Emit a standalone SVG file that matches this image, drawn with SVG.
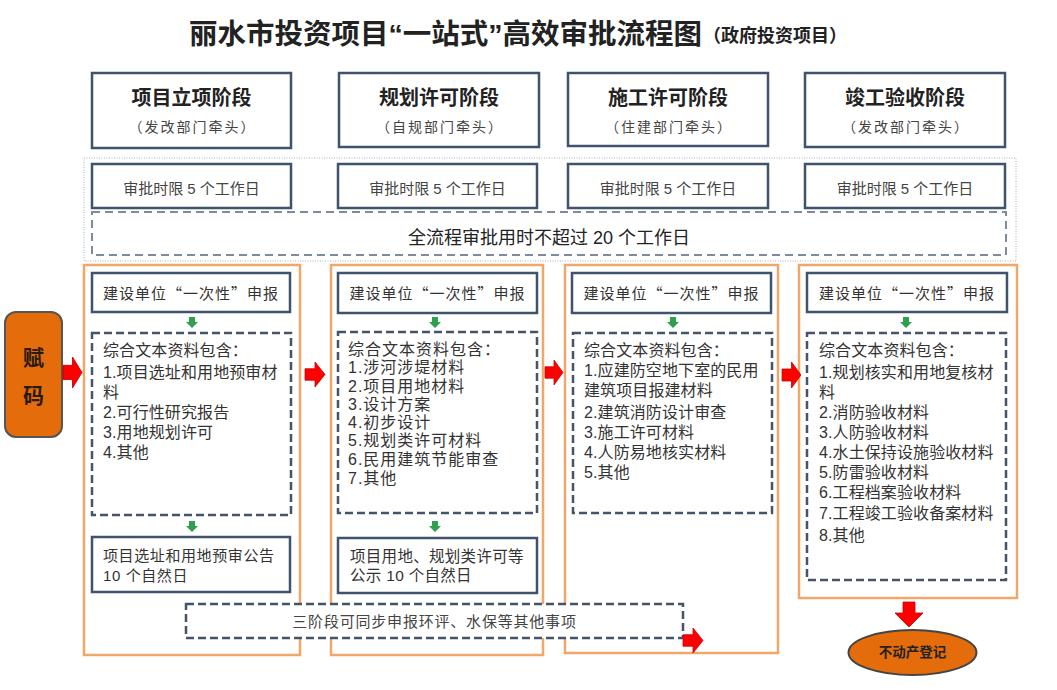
<svg xmlns="http://www.w3.org/2000/svg" width="1057" height="690" viewBox="0 0 1057 690">
<style>
text{font-family:'Liberation Sans','Noto Sans CJK SC',sans-serif;fill:#333}
.cjk{font-family:'Noto Sans CJK SC','Noto Sans CJK JP',sans-serif}
.box{fill:#fff;stroke:#3f536e;stroke-width:2.5}
.dash{fill:#fff;stroke:#44546a;stroke-width:2.5;stroke-dasharray:8 4}
.col{fill:none;stroke:#f0a86a;stroke-width:2.5}
.h1{font-size:20px;font-weight:bold;fill:#222;text-anchor:middle}
.h2{font-size:14px;fill:#444;text-anchor:middle;letter-spacing:2px}
.lim{font-size:15px;fill:#444;text-anchor:middle}
.sub{font-size:15px;fill:#333;text-anchor:middle;letter-spacing:1px}
.c{font-size:16px;fill:#333;letter-spacing:0.1px}
.c2{font-size:16px;fill:#333;letter-spacing:1px}
.red{fill:#ff0000;stroke:#c80000;stroke-width:0.8}
.grn{fill:#2fa04f}
</style>
<defs>
<path id="ra" d="M0,7 H10 V0 L20,13 L10,26 V19 H0 Z"/>
<path id="ga" d="M-3,0 H3 V5 H6 L0,11 L-6,5 H-3 Z"/>
</defs>
<rect width="1057" height="690" fill="#fff"/>
<g id="title">
<text x="189" y="44" style="font-size:28.5px;font-weight:bold;fill:#222">丽水市投资项目“一站式”高效审批流程图</text>
<text x="703" y="42" class="cjk" style="font-size:18px;font-weight:bold;fill:#222">（政府投资项目）</text>
</g>
<g id="stage1"><rect class="box" x="92" y="73" width="199" height="75"/><text class="h1" x="191.5" y="105">项目立项阶段</text><text class="h2 cjk" x="192.5" y="132">（发改部门牵头）</text></g>
<g id="stage2"><rect class="box" x="339" y="73" width="200" height="74"/><text class="h1" x="439" y="105">规划许可阶段</text><text class="h2 cjk" x="440" y="132">（自规部门牵头）</text></g>
<g id="stage3"><rect class="box" x="568" y="73" width="200" height="73"/><text class="h1" x="668" y="105">施工许可阶段</text><text class="h2 cjk" x="669" y="132">（住建部门牵头）</text></g>
<g id="stage4"><rect class="box" x="805" y="73" width="200" height="74"/><text class="h1" x="905" y="105">竣工验收阶段</text><text class="h2 cjk" x="906" y="132">（发改部门牵头）</text></g>
<g id="limits">
<rect x="84" y="158" width="932" height="103" fill="none" stroke="#a8b0bc" stroke-width="1" stroke-dasharray="1 1.5"/>
<g id="lim1"><rect class="box" x="92" y="164" width="199" height="44"/><text class="lim" x="191.5" y="193.5">审批时限 5 个工作日</text></g>
<g id="lim2"><rect class="box" x="338" y="164" width="199" height="44"/><text class="lim" x="437.5" y="193.5">审批时限 5 个工作日</text></g>
<g id="lim3"><rect class="box" x="568" y="164" width="200" height="44"/><text class="lim" x="668" y="193.5">审批时限 5 个工作日</text></g>
<g id="lim4"><rect class="box" x="805" y="164" width="200" height="44"/><text class="lim" x="905" y="193.5">审批时限 5 个工作日</text></g>
<g id="total"><rect x="92" y="212" width="914" height="43" fill="#fff" stroke="#7f8b9c" stroke-width="2" stroke-dasharray="8 5"/><text x="549" y="244" style="font-size:18px;fill:#222;text-anchor:middle">全流程审批用时不超过 20 个工作日</text></g>
</g>
<g id="fuma"><rect x="5" y="312" width="57" height="125" rx="11" fill="#e46c0a" stroke="#555" stroke-width="2"/><text x="33.5" y="365" style="font-size:21px;font-weight:bold;fill:#2a1a0a;text-anchor:middle">赋</text><text x="33.5" y="403" style="font-size:21px;font-weight:bold;fill:#2a1a0a;text-anchor:middle">码</text></g>
<g id="col1">
<rect class="col" x="84" y="265" width="216" height="390"/>
<rect class="box" x="92" y="273" width="198" height="39"/><text class="sub cjk" x="191" y="299">建设单位“一次性”申报</text>
<rect class="dash" x="92" y="333" width="199" height="182"/>
<text class="c" x="103" y="356">综合文本资料包含：</text>
<text class="c" x="103" y="378">1.项目选址和用地预审材</text>
<text class="c" x="103" y="398">料</text>
<text class="c" x="103" y="418">2.可行性研究报告</text>
<text class="c" x="103" y="438">3.用地规划许可</text>
<text class="c" x="103" y="458">4.其他</text>
<rect class="box" x="92" y="537" width="198" height="55"/>
<text x="103" y="561" style="font-size:15px;letter-spacing:0.6px">项目选址和用地预审公告</text>
<text x="103" y="581" style="font-size:15px;letter-spacing:0.6px">10 个自然日</text>
</g>
<g id="col2">
<rect class="col" x="331" y="265" width="212" height="390"/>
<rect class="box" x="338" y="273" width="199" height="40"/><text class="sub cjk" x="437.5" y="299">建设单位“一次性”申报</text>
<rect class="dash" x="338" y="332" width="199" height="181"/>
<text class="c2" x="348" y="355">综合文本资料包含：</text>
<text class="c2" x="348" y="373">1.涉河涉堤材料</text>
<text class="c2" x="348" y="392">2.项目用地材料</text>
<text class="c2" x="348" y="410">3.设计方案</text>
<text class="c2" x="348" y="428">4.初步设计</text>
<text class="c2" x="348" y="446">5.规划类许可材料</text>
<text class="c2" x="348" y="465">6.民用建筑节能审查</text>
<text class="c2" x="348" y="484">7.其他</text>
<rect class="box" x="338" y="538" width="199" height="55"/>
<text x="350" y="562" style="font-size:15.5px;letter-spacing:0.3px">项目用地、规划类许可等</text>
<text x="350" y="581" style="font-size:15.5px;letter-spacing:0.3px">公示 10 个自然日</text>
</g>
<g id="col3">
<rect class="col" x="565" y="265" width="213" height="388"/>
<rect class="box" x="572" y="273" width="199" height="40"/><text class="sub cjk" x="671.5" y="299">建设单位“一次性”申报</text>
<rect class="dash" x="573" y="333" width="199" height="180"/>
<text class="c" x="584" y="356">综合文本资料包含：</text>
<text class="c" x="584" y="376">1.应建防空地下室的民用</text>
<text class="c" x="584" y="396">建筑项目报建材料</text>
<text class="c" x="584" y="417.5">2.建筑消防设计审查</text>
<text class="c" x="584" y="437.5">3.施工许可材料</text>
<text class="c" x="584" y="457.5">4.人防易地核实材料</text>
<text class="c" x="584" y="478">5.其他</text>
</g>
<g id="col4">
<rect class="col" x="799" y="265" width="218" height="333"/>
<rect class="box" x="807" y="273" width="200" height="39"/><text class="sub cjk" x="907" y="299">建设单位“一次性”申报</text>
<rect class="dash" x="807" y="333" width="199" height="247"/>
<text class="c" x="819" y="356">综合文本资料包含：</text>
<text class="c" x="819" y="377.5">1.规划核实和用地复核材</text>
<text class="c" x="819" y="397.5">料</text>
<text class="c" x="819" y="417.5">2.消防验收材料</text>
<text class="c" x="819" y="437.5">3.人防验收材料</text>
<text class="c" x="819" y="458">4.水土保持设施验收材料</text>
<text class="c" x="819" y="478">5.防雷验收材料</text>
<text class="c" x="819" y="498">6.工程档案验收材料</text>
<text class="c" x="819" y="519">7.工程竣工验收备案材料</text>
<text class="c" x="819" y="541">8.其他</text>
</g>
<g id="parallel"><rect class="dash" x="186" y="604" width="497" height="34"/><text x="434.5" y="627" style="font-size:15px;fill:#444;text-anchor:middle;letter-spacing:0.8px">三阶段可同步申报环评、水保等其他事项</text></g>
<g id="register"><ellipse cx="912.5" cy="652.5" rx="64" ry="22.5" fill="#e46c0a" stroke="#444" stroke-width="2"/><text x="912.5" y="657" style="font-size:13.5px;font-weight:bold;fill:#222;text-anchor:middle">不动产登记</text></g>
<g id="connectors">
<use href="#ra" class="red" transform="translate(63,357) scale(0.95,1.19)"/>
<use href="#ra" class="red" transform="translate(305,362) scale(1,0.96)"/>
<use href="#ra" class="red" transform="translate(545,360) scale(0.9,0.96)"/>
<use href="#ra" class="red" transform="translate(782,362) scale(0.95,1)"/>
<use href="#ra" class="red" transform="translate(683,628) scale(1,0.96)"/>
<path class="red" d="M903,602 H915 V613 H923 L909,627 L895,613 H903 Z"/>
<use href="#ga" class="grn" transform="translate(192,317)"/>
<use href="#ga" class="grn" transform="translate(435,317)"/>
<use href="#ga" class="grn" transform="translate(673,317)"/>
<use href="#ga" class="grn" transform="translate(906,317)"/>
<use href="#ga" class="grn" transform="translate(192,521)"/>
<use href="#ga" class="grn" transform="translate(435,521)"/>
</g>
</svg>
